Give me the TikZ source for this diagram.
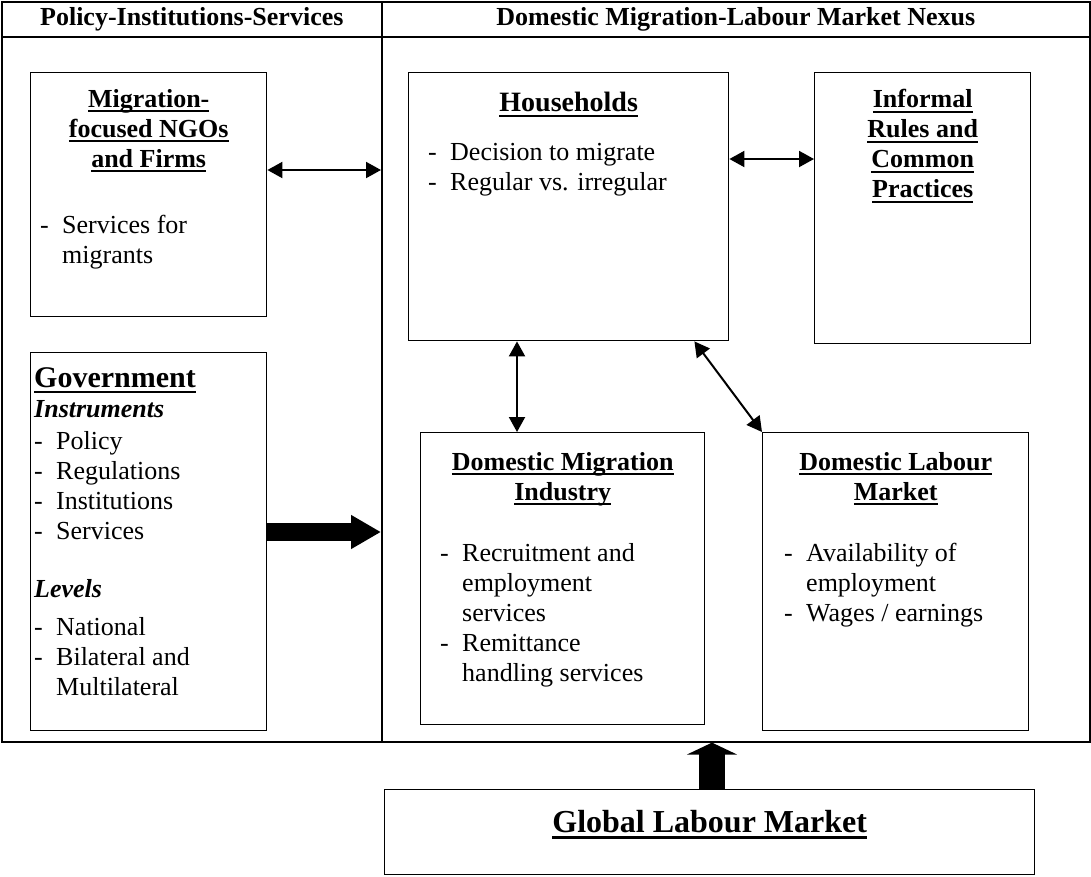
\documentclass[tikz,border=0pt]{standalone}
\usepackage{fontspec}
\setmainfont{Liberation Serif}
\usetikzlibrary{arrows.meta}

\newsavebox\ulsave
\newcommand\ulbox[1]{\sbox\ulsave{#1}\rlap{\rule[-0.2em]{\wd\ulsave}{0.08em}}\usebox\ulsave}
\newcommand\dashit{\makebox[22pt][l]{-}}
\newcommand\contd{\hspace*{22pt}}

\tikzset{
    cell/.style={draw, line width=1.6pt, anchor=north west, inner sep=0pt, font=\fontsize{26}{30}\selectfont\bfseries},
    panel/.style={draw, line width=1.4pt, anchor=north west, inner sep=0pt},
    body/.style={inner sep=0pt, align=left, anchor=north west, font=\fontsize{26}{30}\selectfont},
    ttl/.style={inner sep=0pt, align=center, anchor=north, font=\fontsize{26}{30}\selectfont\bfseries},
    twoway/.style={line width=2pt, {Triangle[length=15pt,width=16pt]}-{Triangle[length=15pt,width=16pt]}},
    bigarrow/.style={line width=18pt, -{Triangle[length=30pt,width=32pt]}},
    uparrow/.style={line width=26pt, -{Triangle[length=12pt,width=50pt]}}
}

\begin{document}
\begin{tikzpicture}[x=1pt, y=-1pt]
    \useasboundingbox (0,0) rectangle (1091,876);
    \node[cell, minimum width=380pt, minimum height=35pt] (polhead) at (1,1) {Policy-Institutions-Services};
    \node[cell, minimum width=708pt, minimum height=35pt] (nexhead) at (381,1) {Domestic Migration-Labour Market Nexus};
    \node[cell, minimum width=380pt, minimum height=705pt] (polbody) at (1,36) {};
    \node[cell, minimum width=708pt, minimum height=705pt] (nexbody) at (381,36) {};

    \node[panel, minimum width=236pt, minimum height=244pt] (ngo) at (30,72) {};
    \node[panel, minimum width=320pt, minimum height=268pt] (hh) at (408,72) {};
    \node[panel, minimum width=216pt, minimum height=271pt] (inf) at (814,72) {};
    \node[panel, minimum width=236pt, minimum height=378pt] (gov) at (30,352) {};
    \node[panel, minimum width=284pt, minimum height=292pt] (dmi) at (420,432) {};
    \node[panel, minimum width=266pt, minimum height=298pt] (dlm) at (762,432) {};
    \node[panel, minimum width=650pt, minimum height=85pt] (gl) at (384,789) {};

    \node[ttl] (ngottl) at ([yshift=-17pt]ngo.north) {\ulbox{Migration-}\\\ulbox{focused NGOs}\\\ulbox{and Firms}};
    \node[body] (ngotxt) at ([xshift=10pt,yshift=-143pt]ngo.north west) {\dashit Services for\\\contd migrants};
    \node[ttl, font=\fontsize{28}{32}\selectfont\bfseries] (hhttl) at ([yshift=-20pt]hh.north) {\ulbox{Households}};
    \node[body] (hhtxt) at ([xshift=20pt,yshift=-71pt]hh.north west) {\dashit Decision to migrate\\\dashit Regular vs. irregular};
    \node[ttl] (infttl) at ([yshift=-17pt]inf.north) {\ulbox{Informal}\\\ulbox{Rules and}\\\ulbox{Common}\\\ulbox{Practices}};
    \node[ttl, anchor=north west, font=\fontsize{30}{34}\selectfont\bfseries] (govttl) at ([xshift=4pt,yshift=-15pt]gov.north west) {\ulbox{Government}};
    \node[body] (govtxt) at ([xshift=4pt,yshift=-48pt]gov.north west) {\textbf{\textit{Instruments}}\\[2pt]
        \dashit Policy\\\dashit Regulations\\\dashit Institutions\\\dashit Services\\[28pt]
        \textbf{\textit{Levels}}\\[8pt]
        \dashit National\\\dashit Bilateral and\\\contd Multilateral};
    \node[ttl] (dmittl) at ([yshift=-20pt]dmi.north) {\ulbox{Domestic Migration}\\\ulbox{Industry}};
    \node[body] (dmitxt) at ([xshift=20pt,yshift=-111pt]dmi.north west) {\dashit Recruitment and\\\contd employment\\\contd services\\\dashit Remittance\\\contd handling services};
    \node[ttl] (dlmttl) at ([yshift=-20pt]dlm.north) {\ulbox{Domestic Labour}\\\ulbox{Market}};
    \node[body] (dlmtxt) at ([xshift=22pt,yshift=-111pt]dlm.north west) {\dashit Availability of\\\contd employment\\\dashit Wages / earnings};
    \node[ttl, font=\fontsize{32}{36}\selectfont\bfseries] (glttl) at ([yshift=-21pt]gl.north) {\ulbox{Global Labour Market}};

    \coordinate (ngoarr) at ([yshift=-98pt]ngo.north east);
    \coordinate (hharr) at ([yshift=-87pt]hh.north east);
    \coordinate (govarr) at ([yshift=-180pt]gov.north east);
    \coordinate (glarr) at ([xshift=328pt]gl.north west);
    \draw[twoway] (ngoarr) -- (ngoarr -| nexbody.west);
    \draw[twoway] (hharr) -- (hharr -| inf.west);
    \draw[twoway] ([xshift=109pt]hh.south west) -- ([xshift=97pt]dmi.north west);
    \draw[twoway] ([xshift=-35pt]hh.south east) -- (dlm.north west);
    \draw[bigarrow] (govarr) -- (govarr -| nexbody.west);
    \draw[uparrow] (glarr) -- (glarr |- nexbody.south);
\end{tikzpicture}
\end{document}
